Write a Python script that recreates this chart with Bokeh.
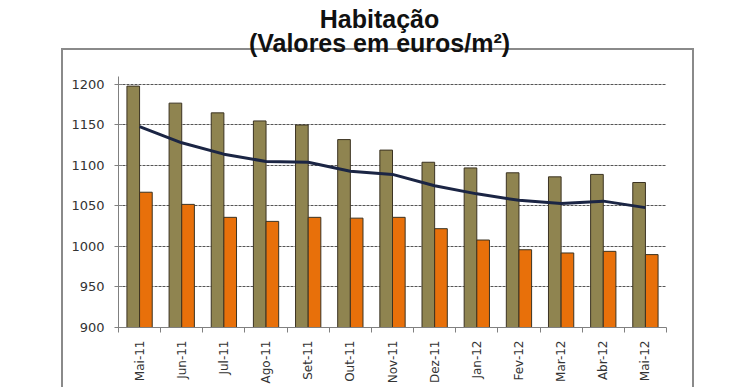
from bokeh.plotting import figure
from bokeh.models import FixedTicker, Range1d, ColumnDataSource, Label
from bokeh.embed import file_html
from bokeh.resources import INLINE
import numpy as np

months = ["Mai-11", "Jun-11", "Jul-11", "Ago-11", "Set-11", "Out-11", "Nov-11",
          "Dez-11", "Jan-12", "Fev-12", "Mar-12", "Abr-12", "Mai-12"]
serie_a = [1198, 1177, 1165, 1155, 1150, 1132, 1119, 1104, 1097, 1091, 1086, 1089, 1079]
serie_b = [1067, 1052, 1036, 1031, 1036, 1035, 1036, 1022, 1008, 996, 992, 994, 990]
serie_c = [1148, 1128, 1114, 1105, 1104, 1093, 1089, 1075, 1065, 1057, 1053, 1056, 1048]
y_ticks = [900, 950, 1000, 1050, 1100, 1150, 1200]
title_1 = "Habitação"
title_2 = "(Valores em euros/m²)"

pos = np.arange(len(months)) + 0.5
src = ColumnDataSource(dict(x=pos, c=serie_c))

W, H = 738, 387
p = figure(width=W, height=H, output_backend="svg", toolbar_location=None,
           title=None,
           x_range=Range1d(0, len(months)), y_range=Range1d(900, 1303.7),
           min_border_left=118, min_border_right=72, min_border_top=0,
           min_border_bottom=60, outline_line_color=None)
p.background_fill_color = None
p.border_fill_color = None

# outer chart-area box drawn as the host's CSS background
box_col = "#8a8a8a"
p.styles = {
    "background-color": "white",
    "background-image": ", ".join([f"linear-gradient({box_col},{box_col})"] * 3),
    "background-size": "2px 400px, 2px 400px, 633px 2px",
    "background-position": "61px 48px, 692px 48px, 61px 48px",
    "background-repeat": "no-repeat",
}

bar_line = "#3b3322"
p.vbar(x=pos - 0.15, top=serie_a, bottom=900, width=0.3,
       fill_color="#8f8450", line_color=bar_line, line_width=1)
p.vbar(x=pos + 0.15, top=serie_b, bottom=900, width=0.3,
       fill_color="#e8700a", line_color=bar_line, line_width=1)
p.line(x="x", y="c", source=src, line_color="#1b2544", line_width=3)

# titles
for txt, yy in ((title_1, 309), (title_2, 285)):
    p.add_layout(Label(x=261, y=yy, x_units="screen", y_units="screen", text=txt,
                       text_align="center", text_baseline="alphabetic",
                       text_font="Liberation Sans", text_font_style="bold",
                       text_font_size="25px", text_color="#111111"))

# grid
p.xgrid.visible = False
p.ygrid.ticker = FixedTicker(ticks=y_ticks)
p.ygrid.grid_line_color = "#555555"
p.ygrid.grid_line_dash = "3 1"
p.ygrid.grid_line_width = 1

# y axis
ya = p.yaxis[0]
ya.ticker = FixedTicker(ticks=y_ticks)
ya.bounds = (900, 1210)
ya.axis_line_color = "#808080"
ya.major_tick_line_color = "#808080"
ya.major_tick_in = 4
ya.major_tick_out = 4
ya.minor_tick_line_color = None
ya.major_label_standoff = 10
ya.major_label_text_font = "DejaVu Sans"
ya.major_label_text_font_size = "13px"
ya.major_label_text_color = "#333333"

# x axis
xa = p.xaxis[0]
xa.ticker = FixedTicker(ticks=list(pos), minor_ticks=list(range(len(months) + 1)))
xa.major_label_overrides = {float(v): m for v, m in zip(pos, months)}
xa.major_label_orientation = np.pi / 2
xa.axis_line_color = "#808080"
xa.major_tick_line_color = None
xa.major_tick_in = 0
xa.major_tick_out = 0
xa.minor_tick_line_color = "#808080"
xa.minor_tick_in = 0
xa.minor_tick_out = 5
xa.major_label_standoff = 8
xa.major_label_text_font = "DejaVu Sans"
xa.major_label_text_font_size = "12px"
xa.major_label_text_color = "#333333"

open("out.html", "w").write(file_html(p, INLINE))
